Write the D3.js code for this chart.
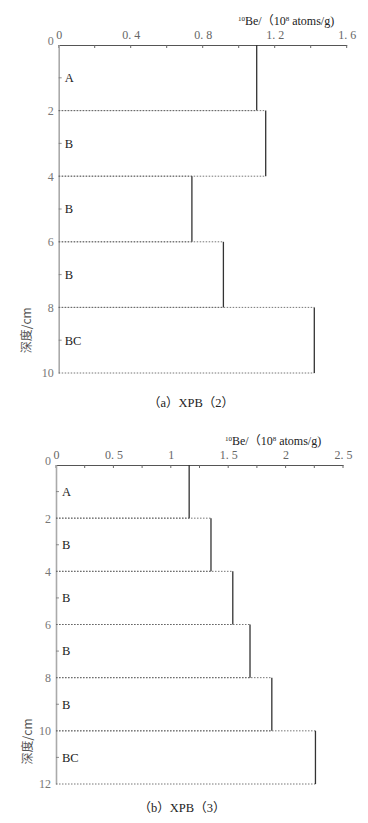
<!DOCTYPE html>
<html><head><meta charset="utf-8">
<script src="https://cdn.jsdelivr.net/npm/d3@7"></script>
<style>body{margin:0;background:#fff}</style>
</head><body><svg id="c" width="368" height="823"></svg>
<script>
// ---- Panel (a) XPB(2)
const depthsA = [0, 2, 4, 6, 8, 10];
const horizonsA = ["A", "B", "B", "B", "BC"];
const valuesA = [1.10, 1.15, 0.74, 0.915, 1.42];
const xTicksA = [0, 0.4, 0.8, 1.2, 1.6];
const xMinorA = [0, 0.2, 0.4, 0.6, 0.8, 1.0, 1.2, 1.4, 1.6];
const yTicksA = [0, 2, 4, 6, 8, 10];
const captionA = "（a）XPB（2）";

// ---- Panel (b) XPB(3)
const depthsB = [0, 2, 4, 6, 8, 10, 12];
const horizonsB = ["A", "B", "B", "B", "B", "BC"];
const valuesB = [1.16, 1.35, 1.54, 1.69, 1.88, 2.26];
const xTicksB = [0, 0.5, 1, 1.5, 2, 2.5];
const xMinorB = [0, 0.25, 0.5, 0.75, 1, 1.25, 1.5, 1.75, 2, 2.25, 2.5];
const yTicksB = [0, 2, 4, 6, 8, 10, 12];
const captionB = "（b）XPB（3）";

const yTitle = "深度/cm";

const svg = d3.select("#c");
const SERIF = "'Liberation Serif','DejaVu Serif','Noto Sans CJK SC',serif";

function panel(o) {
  const g = svg.append("g");
  const x = d3.scaleLinear().domain([0, o.xTicks[o.xTicks.length - 1]]).range([o.x0, o.x1]);
  const y = d3.scaleLinear().domain([0, o.depths[o.depths.length - 1]]).range([o.y0, o.y1]);

  // top axis
  const ax = d3.axisTop(x).tickValues(o.xTicks).tickSize(0).tickPadding(6)
    .tickFormat(d => d3.format(".1~f")(d).replace(".", ". "));
  const axG = g.append("g").attr("transform", `translate(0,${o.y0})`).call(ax);
  axG.select(".domain").attr("stroke", "#555").attr("stroke-width", 1);
  axG.selectAll("text").attr("font-family", SERIF).attr("font-size", 12).attr("fill", "#666");
  // minor ticks pointing down
  g.selectAll(".mt").data(o.xMinor).enter().append("line")
    .attr("x1", d => x(d)).attr("x2", d => x(d))
    .attr("y1", o.y0).attr("y2", o.y0 + 3)
    .attr("stroke", "#666").attr("stroke-width", 1);

  // left axis
  const ay = d3.axisLeft(y).tickValues(o.yTicks).tickSize(0).tickPadding(5);
  const ayG = g.append("g").attr("transform", `translate(${o.x0},0)`).call(ay);
  ayG.select(".domain").attr("stroke", "#aaa").attr("stroke-width", 1.6);
  ayG.selectAll("text").attr("font-family", SERIF).attr("font-size", 12).attr("fill", "#777")
    .attr("dy", d => d === 0 ? "-0.05em" : "0.32em");

  // x axis title
  const t = g.append("text").attr("x", o.titleX).attr("y", o.y0 - 20)
    .attr("font-family", SERIF).attr("font-size", 12).attr("fill", "#222");
  t.append("tspan").attr("font-size", 7).attr("dy", -4).text("10");
  t.append("tspan").attr("dy", 4).text("Be/（10");
  t.append("tspan").attr("font-size", 7).attr("dy", -4).text("8");
  t.append("tspan").attr("dy", 4).text(" atoms/g)");

  // layers
  const layers = o.values.map((v, i) => ({v, top: o.depths[i], bot: o.depths[i + 1], h: o.horizons[i]}));
  layers.forEach(L => {
    // dotted top (skip at 0) and bottom
    [L.top, L.bot].forEach(d => {
      if (d === 0) return;
      g.append("line").attr("x1", x(0)).attr("x2", x(L.v))
        .attr("y1", y(d)).attr("y2", y(d))
        .attr("stroke", "#666").attr("stroke-width", 0.9).attr("stroke-dasharray", "1.5,1.5");
    });
    g.append("line").attr("x1", x(L.v)).attr("x2", x(L.v))
      .attr("y1", y(L.top)).attr("y2", y(L.bot))
      .attr("stroke", "#333").attr("stroke-width", 1.3);
    const mid = (L.top + L.bot) / 2;
    g.append("line").attr("x1", x(0)).attr("x2", x(0) + 3)
      .attr("y1", y(mid)).attr("y2", y(mid)).attr("stroke", "#777").attr("stroke-width", 0.8);
    g.append("text").attr("x", x(0) + 6).attr("y", y(mid)).attr("dy", "0.35em")
      .attr("font-family", SERIF).attr("font-size", 12.5).attr("fill", "#222").text(L.h);
  });

  // y title
  g.append("text").attr("transform", `translate(${o.yTitleX},${y(o.yTitleD)}) rotate(-90)`)
    .attr("text-anchor", "middle").attr("dy", "0.35em")
    .attr("font-family", "'Noto Sans CJK SC',sans-serif").attr("font-size", 12).attr("fill", "#555")
    .text(yTitle);

  // caption
  g.append("text").attr("x", o.capX).attr("y", o.capY).attr("text-anchor", "middle")
    .attr("font-family", SERIF).attr("font-size", 12.5).attr("fill", "#222").text(o.caption);
}

panel({depths: depthsA, horizons: horizonsA, values: valuesA, xTicks: xTicksA, xMinor: xMinorA,
  yTicks: yTicksA, caption: captionA,
  x0: 58.7, x1: 346.7, y0: 45, y1: 373, titleX: 238, yTitleX: 27, yTitleD: 8.7, capX: 191, capY: 407});

panel({depths: depthsB, horizons: horizonsB, values: valuesB, xTicks: xTicksB, xMinor: xMinorB,
  yTicks: yTicksB, caption: captionB,
  x0: 56, x1: 343, y0: 465, y1: 784, titleX: 225, yTitleX: 28, yTitleD: 10.4, capX: 182, capY: 812});
</script></body></html>
